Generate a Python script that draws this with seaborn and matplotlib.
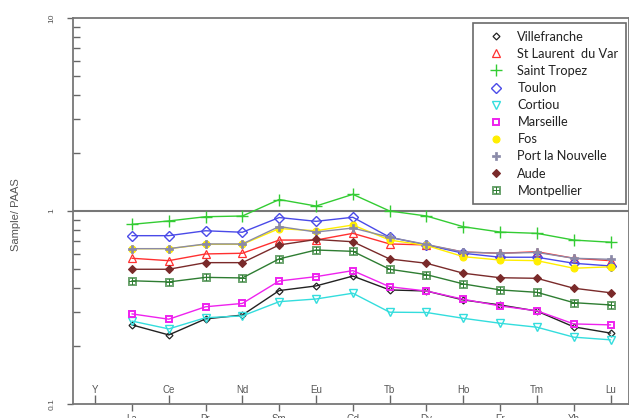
import numpy as np
import seaborn as sns
import matplotlib.pyplot as plt
from matplotlib.lines import Line2D
from matplotlib.ticker import LogLocator, NullFormatter

# REE elements (Y has no data)
elements = ["Y", "La", "Ce", "Pr", "Nd", "Sm", "Eu", "Gd", "Tb", "Dy", "Ho", "Er", "Tm", "Yb", "Lu"]

# Sample/PAAS values, La -> Lu
villefranche = [0.257, 0.228, 0.276, 0.289, 0.387, 0.409, 0.460, 0.390, 0.385, 0.346, 0.326, 0.303, 0.251, 0.233]
st_laurent   = [0.569, 0.553, 0.599, 0.604, 0.707, 0.707, 0.766, 0.675, 0.667, 0.613, 0.604, 0.615, 0.569, 0.553]
saint_tropez = [0.853, 0.888, 0.934, 0.942, 1.147, 1.061, 1.220, 1.000, 0.942, 0.829, 0.778, 0.766, 0.707, 0.689]
toulon       = [0.745, 0.745, 0.790, 0.776, 0.925, 0.884, 0.928, 0.731, 0.667, 0.604, 0.576, 0.576, 0.536, 0.519]
cortiou      = [0.269, 0.245, 0.280, 0.286, 0.339, 0.350, 0.375, 0.299, 0.298, 0.278, 0.262, 0.250, 0.222, 0.215]
marseille    = [0.293, 0.275, 0.319, 0.332, 0.434, 0.457, 0.491, 0.405, 0.385, 0.349, 0.322, 0.304, 0.260, 0.257]
fos          = [0.638, 0.638, 0.672, 0.672, 0.811, 0.790, 0.846, 0.707, 0.663, 0.580, 0.557, 0.553, 0.505, 0.514]
port_nouv    = [0.638, 0.638, 0.675, 0.675, 0.831, 0.778, 0.816, 0.731, 0.671, 0.613, 0.604, 0.610, 0.569, 0.562]
aude         = [0.499, 0.499, 0.540, 0.540, 0.667, 0.712, 0.693, 0.564, 0.536, 0.476, 0.451, 0.448, 0.398, 0.377]
montpellier  = [0.435, 0.429, 0.453, 0.450, 0.565, 0.628, 0.618, 0.499, 0.468, 0.419, 0.390, 0.379, 0.335, 0.326]

sites = ["Villefranche", "St Laurent  du Var", "Saint Tropez", "Toulon", "Cortiou",
         "Marseille", "Fos", "Port la Nouvelle", "Aude", "Montpellier"]
series = [villefranche, st_laurent, saint_tropez, toulon, cortiou,
          marseille, fos, port_nouv, aude, montpellier]

# (line colour, marker, size, face, edge width)
styles = [
    ("#222222", "D", 3.5, "none", 0.9),
    ("#ff3030", "^", 5.5, "none", 0.9),
    ("#33cc33", "+", 8, "none", 1.0),
    ("#4a4ae8", "D", 5, "none", 1.0),
    ("#33dddd", "v", 5.5, "none", 1.0),
    ("#ee22ee", "s", 5, "none", 1.4),
    ("#ffee00", "o", 5, "#ffee00", 0.8),
    ("#8a8aa8", "P", 6, "#8a8aa8", 0.5),
    ("#7a2a2a", "D", 4, "#7a2a2a", 0.8),
    ("#2e7d32", "$\\boxplus$", 5.5, "none", 0.5),
]

sns.set_style("white")
plt.rcParams["font.family"] = ["Liberation Sans", "DejaVu Sans"]
grey = "#555555"

fig = plt.figure(figsize=(6.29, 4.18), dpi=100)
ax = fig.add_axes([73 / 629, 14 / 418, 556 / 629, 386 / 418])

x_pos = np.arange(1, len(elements))
handles = []
for name, vals, (c, m, ms, fc, mew) in zip(sites, series, styles):
    sns.lineplot(x=x_pos, y=vals, ax=ax, color=c, lw=1, marker=m, ms=ms,
                 mfc=fc, mec=c, mew=mew, legend=False, sort=False)
    handles.append(Line2D([], [], ls="none", marker=m, ms=ms, mfc=fc, mec=c, mew=mew, label=name))

ax.axhline(1, color="#777777", lw=1.5, zorder=0)

ax.set_yscale("log")
ax.set_ylim(0.1, 10)
ax.set_xlim(-0.6, 14.5)

ax.set_yticks([0.1, 1, 10])
ax.set_yticklabels(["0.1", "1", "10"], rotation=90, va="center")
ax.yaxis.set_minor_locator(LogLocator(base=10, subs=np.arange(2, 10)))
ax.yaxis.set_minor_formatter(NullFormatter())
ax.tick_params(axis="y", which="major", direction="out", length=4.5, width=1,
               color="#666666", labelsize=6, labelcolor=grey, pad=8, left=True)
ax.tick_params(axis="y", which="minor", direction="in", length=5, width=1,
               color="#666666", left=True)

# upper row of labels inside, lower row below the axis
ax.set_xticks(x_pos[1::2].tolist() + [0])
ax.set_xticklabels([elements[i] for i in x_pos[1::2]] + ["Y"])
ax.set_xticks(x_pos[::2], minor=True)
ax.set_xticklabels([elements[i] for i in x_pos[::2]], minor=True)
ax.tick_params(axis="x", which="major", direction="in", length=6.5, width=1,
               color="#666666", labelsize=7, labelcolor=grey, pad=-14, bottom=True)
ax.tick_params(axis="x", which="minor", direction="out", length=5, width=1,
               color="#666666", labelsize=7, labelcolor=grey, pad=2.5, bottom=True)

for s in ax.spines.values():
    s.set_color("#777777")
    s.set_linewidth(1.3)

ax.set_ylabel("Sample/ PAAS", fontsize=8, color=grey)
ax.yaxis.set_label_coords(-0.093, 0.49)

leg = ax.legend(handles=handles, loc="upper right", bbox_to_anchor=(0.995, 0.987),
                borderaxespad=0, frameon=True, fancybox=False,
                prop={"family": "Lato", "size": 9.2}, labelspacing=0.4,
                handletextpad=0.5, handlelength=2.4, borderpad=0.6)
leg.get_frame().set_edgecolor("#444444")
leg.get_frame().set_linewidth(1.2)
for t in leg.get_texts():
    t.set_color("#222222")

plt.savefig("out.png", dpi=100)
